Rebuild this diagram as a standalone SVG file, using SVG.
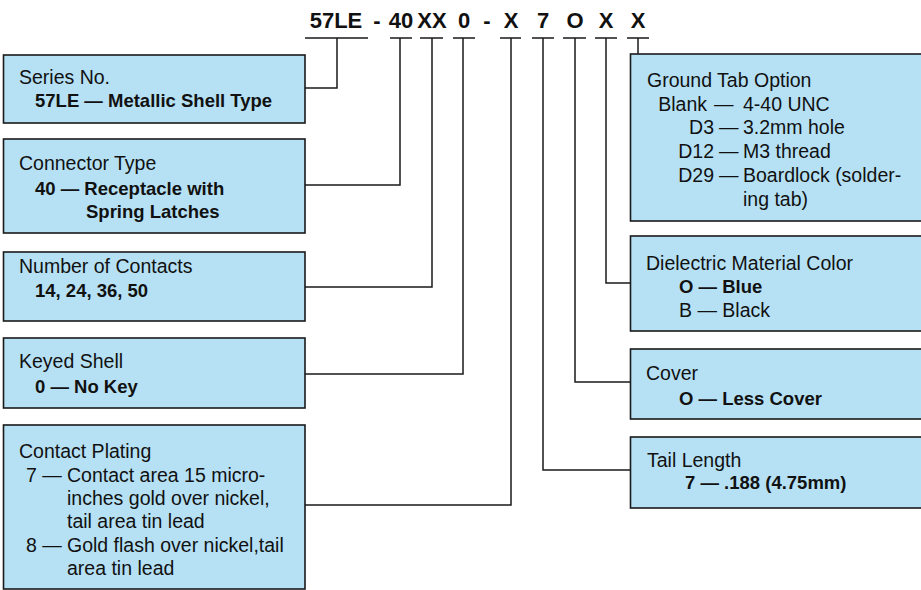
<svg xmlns="http://www.w3.org/2000/svg" width="921" height="590" viewBox="0 0 921 590">
<style>
.box{fill:#b6e1f5;stroke:#1a1a1a;stroke-width:1.6}
.ln{fill:none;stroke:#1a1a1a;stroke-width:1.5}
text{font-family:"Liberation Sans",Arial,sans-serif;fill:#111}
.r{font-size:19.5px}
.b{font-size:18.5px;font-weight:bold}
.pn{font-size:22px;font-weight:bold;text-anchor:middle}
.e{text-anchor:end}
</style>
<rect width="921" height="590" fill="#ffffff"/>
<g id="partnumber">
<text class="pn" x="336" y="28">57LE</text>
<text class="pn" x="377" y="28">-</text>
<text class="pn" x="401" y="28">40</text>
<text class="pn" x="432" y="28">XX</text>
<text class="pn" x="464" y="28">0</text>
<text class="pn" x="487" y="28">-</text>
<text class="pn" x="511" y="28">X</text>
<text class="pn" x="543" y="28">7</text>
<text class="pn" x="575" y="28">O</text>
<text class="pn" x="606" y="28">X</text>
<text class="pn" x="638" y="28">X</text>
</g>
<g id="connectors">
<path class="ln" d="M305 38H368M390 38H412M420 38H443M453 38H475M500 38H521M532 38H554M563 38H586M595 38H617M627 38H649"/>
<path class="ln" d="M337 38V88H305"/>
<path class="ln" d="M400 38V185H305"/>
<path class="ln" d="M432 38V287H305"/>
<path class="ln" d="M463 38V374H305"/>
<path class="ln" d="M511 38V505H305"/>
<path class="ln" d="M543 38V470H630"/>
<path class="ln" d="M575 38V382H630"/>
<path class="ln" d="M606 38V283H630"/>
<path class="ln" d="M638 38V54"/>
</g>
<g id="series">
<rect class="box" x="3.5" y="55" width="301.5" height="68"/>
<text class="r" x="19" y="84">Series No.</text>
<text class="b" x="35" y="107">57LE — Metallic Shell Type</text>
</g>
<g id="connectortype">
<rect class="box" x="3.5" y="139" width="301.5" height="94"/>
<text class="r" x="19" y="170">Connector Type</text>
<text class="b" x="35" y="195">40 — Receptacle with</text>
<text class="b" x="86" y="218">Spring Latches</text>
</g>
<g id="contacts">
<rect class="box" x="3.5" y="252" width="301.5" height="69"/>
<text class="r" x="19" y="273">Number of Contacts</text>
<text class="b" x="35" y="297">14, 24, 36, 50</text>
</g>
<g id="keyed">
<rect class="box" x="3.5" y="338" width="301.5" height="70"/>
<text class="r" x="19" y="368">Keyed Shell</text>
<text class="b" x="35" y="393">0 — No Key</text>
</g>
<g id="plating">
<rect class="box" x="3.5" y="425" width="301.5" height="164"/>
<text class="r" x="19" y="458">Contact Plating</text>
<text class="r" x="26" y="482">7 —</text>
<text class="r" x="67" y="482">Contact area 15 micro-</text>
<text class="r" x="67" y="505">inches gold over nickel,</text>
<text class="r" x="67" y="528">tail area tin lead</text>
<text class="r" x="26" y="552">8 —</text>
<text class="r" x="67" y="552">Gold flash over nickel,tail</text>
<text class="r" x="67" y="575">area tin lead</text>
</g>
<g id="groundtab">
<rect class="box" x="630.5" y="54" width="300" height="167"/>
<text class="r" x="647" y="87">Ground Tab Option</text>
<text class="r e" x="707" y="111">Blank</text>
<text class="r" x="714" y="111">—</text>
<text class="r" x="743" y="111">4-40 UNC</text>
<text class="r e" x="714" y="134">D3</text>
<text class="r" x="719" y="134">—</text>
<text class="r" x="743" y="134">3.2mm hole</text>
<text class="r e" x="714" y="158">D12</text>
<text class="r" x="719" y="158">—</text>
<text class="r" x="743" y="158">M3 thread</text>
<text class="r e" x="714" y="182">D29</text>
<text class="r" x="719" y="182">—</text>
<text class="r" x="743" y="182">Boardlock (solder-</text>
<text class="r" x="743" y="206">ing tab)</text>
</g>
<g id="dielectric">
<rect class="box" x="630.5" y="236" width="300" height="95"/>
<text class="r" x="646" y="270">Dielectric Material Color</text>
<text class="b" x="679" y="293">O — Blue</text>
<text class="r" x="679" y="317">B — Black</text>
</g>
<g id="cover">
<rect class="box" x="630.5" y="349" width="300" height="70"/>
<text class="r" x="646" y="380">Cover</text>
<text class="b" x="679" y="405">O — Less Cover</text>
</g>
<g id="taillength">
<rect class="box" x="630.5" y="437" width="300" height="71"/>
<text class="r" x="647" y="467">Tail Length</text>
<text class="b" x="685" y="489">7 — .188 (4.75mm)</text>
</g>
</svg>
